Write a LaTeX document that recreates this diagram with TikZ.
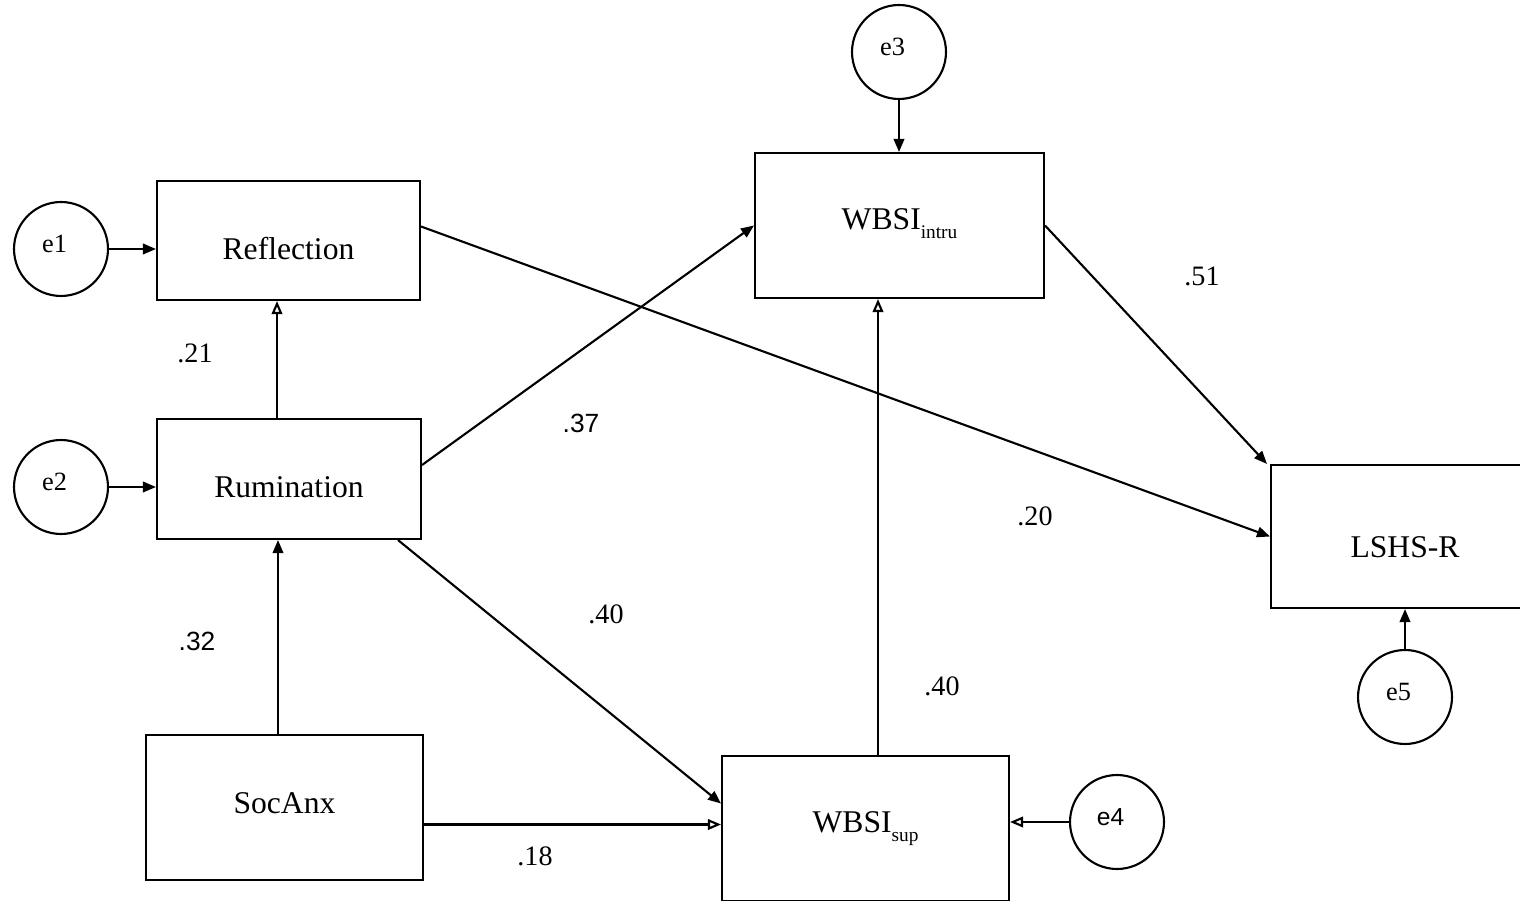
\documentclass[tikz,border=0pt]{standalone}
\usepackage{fontspec}
\setmainfont{Liberation Serif}
\newfontfamily\arialf{Liberation Sans}
\usetikzlibrary{arrows.meta,calc}

\tikzset{
  var/.style={draw, line width=1.2pt, inner sep=0pt},
  vtext/.style={font=\fontsize{18}{20}\selectfont},
  err/.style={draw, circle, line width=1.2pt, minimum size=1.88cm, inner sep=0pt},
  etext/.style={font=\fontsize{15}{17}\selectfont, xshift=-0.13cm, yshift=0.1cm},
  coef/.style={font=\fontsize{16}{18}\selectfont},
  path/.style={line width=1.2pt, -{Triangle[length=0.26cm,width=0.21cm]}},
  opath/.style={line width=1.2pt, -{Triangle[open,length=0.26cm,width=0.21cm]}}
}
\newcommand{\subtxt}[1]{\raisebox{-0.3em}{\fontsize{11}{12}\selectfont #1}}

\begin{document}
\begin{tikzpicture}[x=0.02cm,y=-0.02cm]
        \useasboundingbox (0,0) rectangle (1520,901);

        % Observed variables
        \node[var, minimum width=5.26cm, minimum height=2.38cm,
          label={[vtext,yshift=-0.16cm]center:Reflection}] (refl) at (288.5,240.5) {};
        \node[var, minimum width=5.28cm, minimum height=2.40cm,
          label={[vtext,yshift=-0.16cm]center:Rumination}] (rum) at (289,479) {};
        \node[var, minimum width=5.54cm, minimum height=2.90cm,
          label={[vtext,yshift=0.08cm]center:SocAnx}] (soc) at (284.5,807.5) {};
        \node[var, minimum width=5.78cm, minimum height=2.90cm,
          label={[vtext,yshift=0.04cm]center:WBSI\subtxt{intru}}] (intru) at (899.5,225.5) {};
        \node[var, minimum width=5.74cm, minimum height=2.90cm,
          label={[vtext]center:WBSI\subtxt{sup}}] (sup) at (865.5,828.5) {};
        \node[var, minimum width=5.36cm, minimum height=2.86cm,
          label={[vtext,yshift=-0.22cm]center:LSHS-R}] (lshs) at (1405,536.5) {};

        % Error terms
        \node[err, label={[etext]center:e1}] (e1) at (61,249) {};
        \node[err, label={[etext]center:e2}] (e2) at (61,487) {};
        \node[err, label={[etext]center:e3}] (e3) at (899,52) {};
        \node[err, label={[etext,font=\arialf\fontsize{14}{16}\selectfont]center:e4}] (e4) at (1117,822) {};
        \node[err, label={[etext]center:e5}] (e5) at (1405,697) {};

        % Error paths
        \draw[path] (e1.east) -- (refl.west |- e1.east);
        \draw[path] (e2.east) -- (rum.west |- e2.east);
        \draw[path] (e3.south) -- (intru.north -| e3.south);
        \draw[opath] (e4.west) -- (sup.east |- e4.west);
        \draw[path] (e5.north) -- (lshs.south -| e5.north);

        % Structural paths
        \coordinate (rr) at ($(rum.north)+(-12,0)$);
        \draw[opath] (rr) -- (refl.south -| rr);
        \coordinate (sr) at ($(soc.north)+(-6.5,0)$);
        \draw[path] (sr) -- (rum.south -| sr);
        \draw[path] ($(rum.east)+(0,-14)$) -- (intru.west);
        \draw[path] ($(rum.south)+(109,0)$) -- ($(sup.west)+(0,-25)$);
        \coordinate (ss) at ($(soc.east)+(0,17)$);
        \draw[opath] (ss) -- (sup.west |- ss);
        \coordinate (si) at ($(sup.north)+(12.5,0)$);
        \draw[opath] (si) -- (intru.south -| si);
        \draw[path] (intru.east) -- ($(lshs.north west)+(-3,0)$);
        \draw[path] ($(refl.east)+(0,-14)$) -- (lshs.west);

        % Coefficients
        \node[coef] (c21) at (195,353) {.21};
        \node[coef, font=\arialf\fontsize{15}{17}\selectfont] (c32) at (197,641) {.32};
        \node[coef, font=\arialf\fontsize{15}{17}\selectfont] (c37) at (581,423) {.37};
        \node[coef] (c40a) at (606,614) {.40};
        \node[coef] (c18) at (535,856) {.18};
        \node[coef] (c40b) at (942,686) {.40};
        \node[coef] (c51) at (1202,276) {.51};
        \node[coef] (c20) at (1035,516) {.20};
\end{tikzpicture}
\end{document}
